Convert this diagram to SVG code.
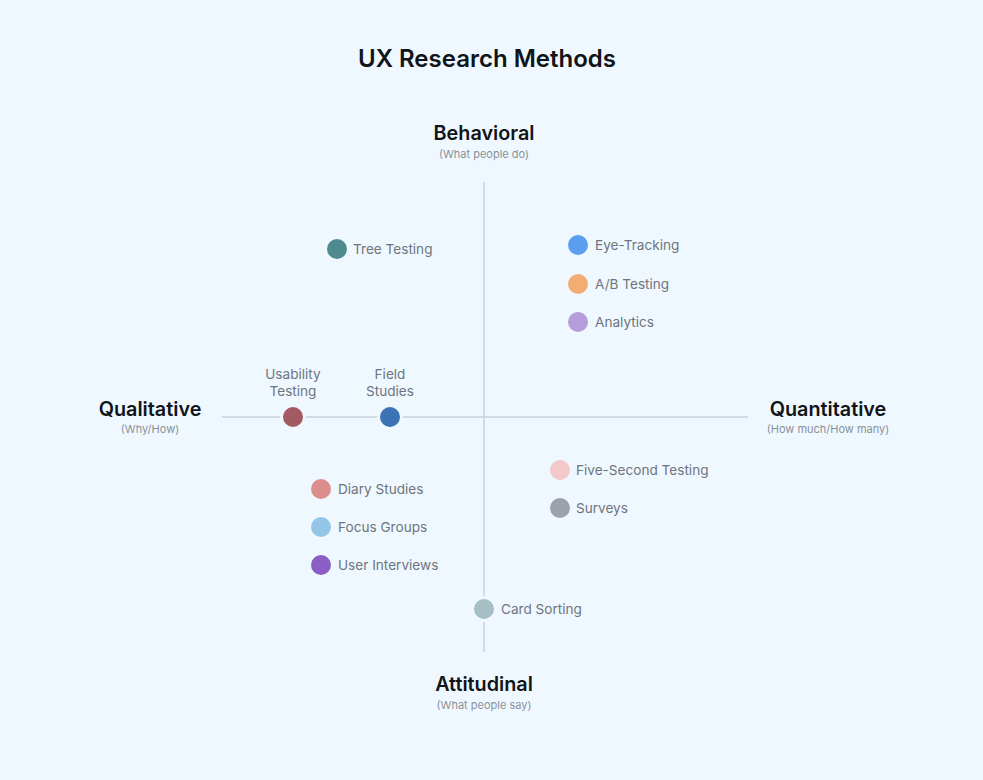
<svg xmlns="http://www.w3.org/2000/svg" width="983" height="780" viewBox="0 0 983 780">
<style>
.title{font-family:Inter,"Liberation Sans",sans-serif;font-size:24px;font-weight:600;fill:#111418;text-anchor:middle}
.axis{font-family:Inter,"Liberation Sans",sans-serif;font-size:19.8px;font-weight:600;fill:#111418;text-anchor:middle}
.sub{font-family:Inter,"Liberation Sans",sans-serif;font-size:11px;fill:#8A919B;text-anchor:middle}
.lbl{font-family:Inter,"Liberation Sans",sans-serif;font-size:13.6px;fill:#6E7580}
.lblc{font-family:Inter,"Liberation Sans",sans-serif;font-size:13.6px;fill:#6E7580;text-anchor:middle}
.ax{stroke:#C9D1DA;stroke-width:1.5;fill:none}
.dot{stroke:#EFF8FE;stroke-width:3}
</style>
<rect width="983" height="780" fill="#EFF8FE"/>
<text class="title" x="487" y="67">UX Research Methods</text>
<g id="axes">
<line class="ax" x1="484" y1="182" x2="484" y2="652"/>
<line class="ax" x1="222" y1="417" x2="748" y2="417"/>
</g>
<g id="axis-labels">
<text class="axis" x="484" y="140">Behavioral</text>
<text class="sub" x="484" y="158">(What people do)</text>
<text class="axis" x="150" y="416">Qualitative</text>
<text class="sub" x="150" y="433">(Why/How)</text>
<text class="axis" x="828" y="416">Quantitative</text>
<text class="sub" x="828" y="433">(How much/How many)</text>
<text class="axis" x="484" y="691">Attitudinal</text>
<text class="sub" x="484" y="709">(What people say)</text>
</g>
<g id="tree-testing"><circle class="dot" cx="337" cy="249" r="11.5" fill="#4E8A8E"/><text class="lbl" x="353" y="254">Tree Testing</text></g>
<g id="eye-tracking"><circle class="dot" cx="578" cy="245" r="11.5" fill="#5B9EF0"/><text class="lbl" x="595" y="250">Eye-Tracking</text></g>
<g id="ab-testing"><circle class="dot" cx="578" cy="284" r="11.5" fill="#F2AE72"/><text class="lbl" x="595" y="289">A/B Testing</text></g>
<g id="analytics"><circle class="dot" cx="578" cy="322" r="11.5" fill="#B79CDC"/><text class="lbl" x="595" y="327">Analytics</text></g>
<g id="usability-testing"><circle class="dot" cx="293" cy="417" r="11.5" fill="#A35A62"/><text class="lblc" x="293" y="379">Usability</text><text class="lblc" x="293" y="396">Testing</text></g>
<g id="field-studies"><circle class="dot" cx="390" cy="417" r="11.5" fill="#3D72B5"/><text class="lblc" x="390" y="379">Field</text><text class="lblc" x="390" y="396">Studies</text></g>
<g id="diary-studies"><circle class="dot" cx="321" cy="489" r="11.5" fill="#DC8E8C"/><text class="lbl" x="338" y="494">Diary Studies</text></g>
<g id="focus-groups"><circle class="dot" cx="321" cy="527" r="11.5" fill="#93C5E6"/><text class="lbl" x="338" y="532">Focus Groups</text></g>
<g id="user-interviews"><circle class="dot" cx="321" cy="565" r="11.5" fill="#8A5EC4"/><text class="lbl" x="338" y="570">User Interviews</text></g>
<g id="five-second-testing"><circle class="dot" cx="560" cy="470" r="11.5" fill="#F2C8C8"/><text class="lbl" x="576" y="475">Five-Second Testing</text></g>
<g id="surveys"><circle class="dot" cx="560" cy="508" r="11.5" fill="#9DA2AA"/><text class="lbl" x="576" y="513">Surveys</text></g>
<g id="card-sorting"><circle class="dot" cx="484" cy="609" r="11.5" fill="#A5BFC4"/><text class="lbl" x="501" y="614">Card Sorting</text></g>
</svg>
